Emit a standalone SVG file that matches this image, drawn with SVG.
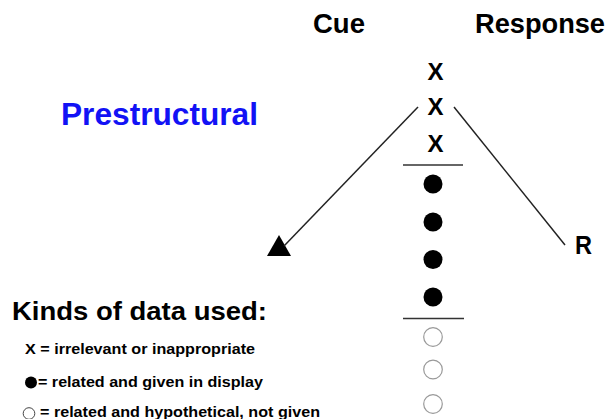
<svg xmlns="http://www.w3.org/2000/svg" width="607" height="419" viewBox="0 0 607 419">
<style>
text{font-family:"Liberation Sans",Arial,sans-serif;font-weight:bold;fill:#000}
.hdr{font-size:27px}
.x{font-size:24px;text-anchor:middle}
.leg{font-size:15.5px}
.dot{fill:#000}
.open{fill:#fff;stroke:#999;stroke-width:1.2}
.sep{stroke:#333;stroke-width:1.5}
.conn{stroke:#222;stroke-width:1.5;fill:none}
</style>
<rect width="607" height="419" fill="#fff"/>
<g id="headers">
<text class="hdr" x="313" y="33" textLength="52" lengthAdjust="spacingAndGlyphs">Cue</text>
<text class="hdr" x="475" y="33" textLength="130" lengthAdjust="spacingAndGlyphs">Response</text>
</g>
<g id="title">
<text x="61" y="124.5" style="font-size:32px;fill:#1212f5" textLength="197" lengthAdjust="spacingAndGlyphs">Prestructural</text>
</g>
<g id="irrelevant">
<text class="x" x="435.5" y="80">X</text>
<text class="x" x="435.5" y="115">X</text>
<text class="x" x="435.5" y="152">X</text>
</g>
<g id="given">
<line class="sep" x1="403" y1="165" x2="463" y2="165"/>
<circle class="dot" cx="433" cy="184" r="9.5"/>
<circle class="dot" cx="433" cy="222" r="9.5"/>
<circle class="dot" cx="433" cy="259.5" r="9.5"/>
<circle class="dot" cx="433" cy="297" r="9.5"/>
</g>
<g id="hypothetical">
<line class="sep" x1="403" y1="318.5" x2="464" y2="318.5"/>
<circle class="open" cx="433" cy="337" r="9.3"/>
<circle class="open" cx="433" cy="369.5" r="9.3"/>
<circle class="open" cx="433" cy="404" r="9.3"/>
</g>
<g id="cue-target">
<polygon points="279,235 267,256 291,256" fill="#000"/>
</g>
<g id="response">
<text x="575" y="254" style="font-size:25px" textLength="17" lengthAdjust="spacingAndGlyphs">R</text>
</g>
<g id="connectors">
<line class="conn" x1="418" y1="107" x2="284" y2="246"/>
<line class="conn" x1="454" y1="107" x2="565" y2="245"/>
</g>
<g id="legend">
<text x="12" y="320" style="font-size:26px" textLength="255" lengthAdjust="spacingAndGlyphs">Kinds of data used:</text>
<text class="leg" x="25" y="354" textLength="230" lengthAdjust="spacingAndGlyphs">X = irrelevant or inappropriate</text>
<circle class="dot" cx="31" cy="382.5" r="6"/>
<text class="leg" x="38" y="386.5" textLength="225" lengthAdjust="spacingAndGlyphs">= related and given in display</text>
<circle cx="29" cy="413.5" r="5.8" fill="#fff" stroke="#444" stroke-width="1"/>
<text class="leg" x="40" y="417" textLength="280" lengthAdjust="spacingAndGlyphs">= related and hypothetical, not given</text>
</g>
</svg>
